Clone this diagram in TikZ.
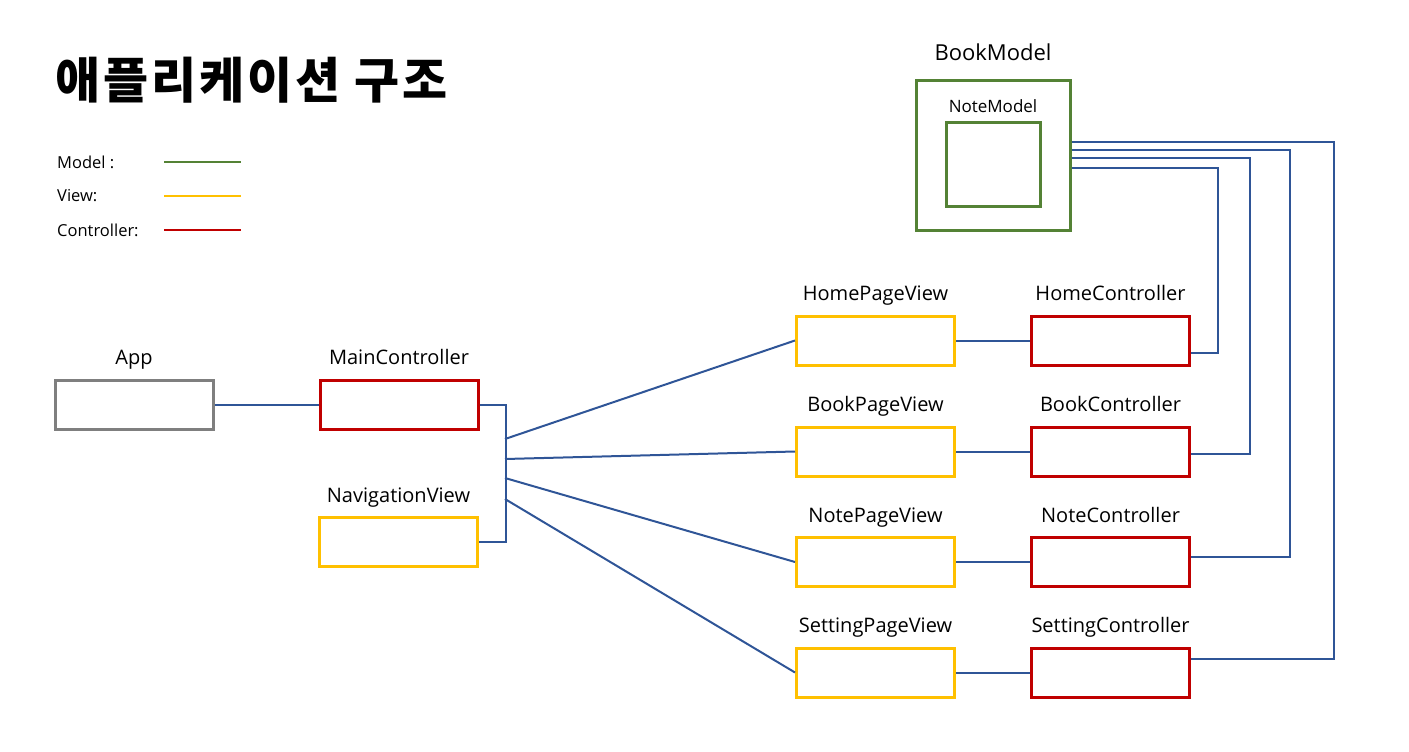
\documentclass[tikz,border=0pt]{standalone}
\usepackage{fontspec}
\setmainfont{Open Sans}
\newfontfamily\cjk[LetterSpace=6]{Noto Sans CJK KR}
\usetikzlibrary{positioning}
\definecolor{mgreen}{HTML}{548235}
\definecolor{vyellow}{HTML}{FFC000}
\definecolor{cred}{HTML}{C00000}
\definecolor{agray}{HTML}{7F7F7F}
\definecolor{wireblue}{HTML}{2F5597}
\tikzset{
  box/.style={draw, line width=3pt, minimum width=158pt, minimum height=49pt, inner sep=0pt},
  modelbox/.style={box, draw=mgreen},
  viewbox/.style={box, draw=vyellow},
  ctrlbox/.style={box, draw=cred},
  lbl/.style={anchor=base, inner sep=0pt, font=\fontsize{20}{24}\selectfont},
  legendtxt/.style={anchor=west, inner sep=0pt, font=\fontsize{16.5}{20}\selectfont},
  wire/.style={draw=wireblue, line width=2pt}
}
\begin{document}
\begin{tikzpicture}[x=1pt,y=-1pt]
\useasboundingbox (0,0) rectangle (1409,752);
% title
\node[anchor=west, inner sep=0pt, font=\cjk\bfseries\fontsize{49}{55}\selectfont] (title) at (55,80) {애플리케이션 구조};
% legend
\node[legendtxt] (lgm) at (57,162) {Model :};
\node[legendtxt] (lgv) at (57,196) {View:};
\node[legendtxt] (lgc) at (57,230) {Controller:};
\draw[mgreen, line width=2pt] (164,162) -- (241,162);
\draw[vyellow, line width=2pt] (164,196) -- (241,196);
\draw[cred, line width=2pt] (164,230) -- (241,230);
% model
\node[modelbox, minimum width=154pt, minimum height=149pt] (bm) at (993,155.5) {};
\node[modelbox, minimum width=94pt, minimum height=84pt] (nm) at (993,164) {};
\node[lbl, font=\fontsize{22}{26}\selectfont] (bml) at ([yshift=19pt]bm.north) {BookModel};
\node[lbl, font=\fontsize{17}{20}\selectfont] (nml) at ([yshift=8pt]nm.north) {NoteModel};
% left side
\node[box, draw=agray] (app) at (134,404.5) {};
\node[ctrlbox] (mainc) at (399,404.5) {};
\node[viewbox] (navv) at (398.5,542) {};
\node[lbl] (appl) at ([yshift=14pt]app.north) {App};
\node[lbl] (maincl) at ([yshift=14pt]mainc.north) {MainController};
\node[lbl] (navvl) at ([yshift=14pt]navv.north) {NavigationView};
% pages
\node[viewbox] (hpv) at (875.5,340.5) {};
\node[ctrlbox] (hc) at (1110.5,340.5) {};
\node[viewbox] (bpv) at (875.5,451.5) {};
\node[ctrlbox] (bc) at (1110.5,451.5) {};
\node[viewbox] (npv) at (875.5,562) {};
\node[ctrlbox] (nc) at (1110.5,562) {};
\node[viewbox] (spv) at (875.5,672.5) {};
\node[ctrlbox] (sc) at (1110.5,672.5) {};
\node[lbl] (hpvl) at ([yshift=14pt]hpv.north) {HomePageView};
\node[lbl] (hcl) at ([yshift=14pt]hc.north) {HomeController};
\node[lbl] (bpvl) at ([yshift=14pt]bpv.north) {BookPageView};
\node[lbl] (bcl) at ([yshift=14pt]bc.north) {BookController};
\node[lbl] (npvl) at ([yshift=14pt]npv.north) {NotePageView};
\node[lbl] (ncl) at ([yshift=14pt]nc.north) {NoteController};
\node[lbl] (spvl) at ([yshift=14pt]spv.north) {SettingPageView};
\node[lbl] (scl) at ([yshift=14pt]sc.north) {SettingController};
% wires
\coordinate (hub1) at (505,439);
\coordinate (hub2) at (505,459);
\coordinate (hub3) at (505,478);
\coordinate (hub4) at (505,499);
\draw[wire] (app.east) -- (mainc.west);
\draw[wire] (mainc.east) -- ++(26,0) |- (navv.east);
\draw[wire] (hub1) -- (hpv.west);
\draw[wire] (hub2) -- (bpv.west);
\draw[wire] (hub3) -- (npv.west);
\draw[wire] (hub4) -- (spv.west);
\draw[wire] (hpv.east) -- (hc.west);
\draw[wire] (bpv.east) -- (bc.west);
\draw[wire] (npv.east) -- (nc.west);
\draw[wire] (spv.east) -- (sc.west);
\draw[wire] ([yshift=13.5pt]bm.east) -- ++(262,0) |- ([yshift=13.5pt]sc.east);
\draw[wire] ([yshift=5.5pt]bm.east) -- ++(218,0) |- ([yshift=5.5pt]nc.east);
\draw[wire] ([yshift=-2.5pt]bm.east) -- ++(178,0) |- ([yshift=-2.5pt]bc.east);
\draw[wire] ([yshift=-12.5pt]bm.east) -- ++(146,0) |- ([yshift=-12.5pt]hc.east);
\end{tikzpicture}
\end{document}
